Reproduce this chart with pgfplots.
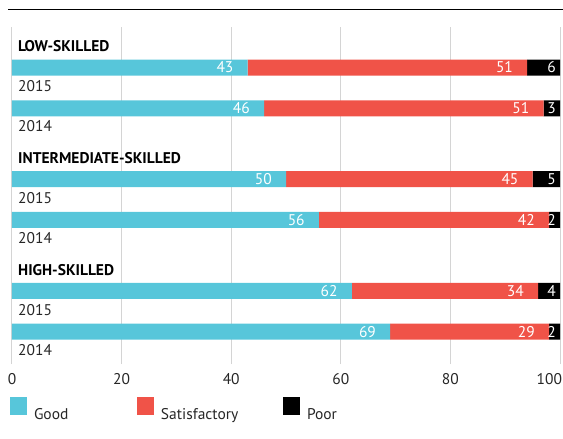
\documentclass[border=0pt]{standalone}
\usepackage{pgfplots}
\pgfplotsset{compat=1.18}
\usepackage{fontspec}
\setmainfont{PT Sans}
\definecolor{good}{HTML}{57C6DA}
\definecolor{satis}{HTML}{F05348}
\definecolor{gridgray}{HTML}{D4D4D4}
\newcommand\f{\fontsize{15.5}{18}\selectfont}

\begin{document}
\begin{tikzpicture}
\path[use as bounding box] (0pt,0pt) rectangle (563pt,-439pt);
\draw[line width=1.5pt] (8pt,-9.5pt) -- (563pt,-9.5pt);
\begin{axis}[
  at={(12pt,-27pt)}, anchor=north west,
  scale only axis, width=548pt, height=337pt,
  xmin=0, xmax=100, ymin=-364, ymax=-27,
  xbar stacked, bar width=16pt,
  axis line style={draw=none}, major tick length=0pt,
  xtick={0,20,...,100}, ytick=\empty,
  xticklabels={0,20,40,60,80,{\makebox[0pt][r]{100\hspace{-2pt}}}},
  xticklabel style={font=\f, anchor=base, yshift=-20.5pt, text=black!85},
  xmajorgrids, grid style={gridgray, line width=1pt},
  /pgf/number format/assume math mode=true,
  nodes near coords,
  visualization depends on={rawx \as \rawx},
  every node near coord/.style={anchor=east, text=white, inner sep=0pt,
    xshift=\rawx*2.74pt-14pt, font=\f},
  legend image code/.code={\fill[#1] (0pt,0pt) rectangle (17pt,17.5pt);},
  legend columns=3,
  legend style={draw=none, fill=none, inner sep=0pt, outer sep=0pt,
    at={(-0.00365,-0.1374)}, anchor=west, font=\f, text=black!85,
    /tikz/every odd column/.append style={column sep=5pt},
    /tikz/column 2/.style={text width=101pt},
    /tikz/column 4/.style={text width=120pt}},
]
\addplot[fill=good, draw=none] coordinates {
  (43,-67.5) (46,-108.3) (50,-179.1) (56,-219.9) (62,-290.8) (69,-331.6)};
\addplot[fill=satis, draw=none] coordinates {
  (51,-67.5) (51,-108.3) (45,-179.1) (42,-219.9) (34,-290.8) (29,-331.6)};
\addplot[fill=black, draw=none, every node near coord/.append style={xshift=10pt}] coordinates {
  (6,-67.5) (3,-108.3) (5,-179.1) (2,-219.9) (4,-290.8) (2,-331.6)};
\legend{Good, Satisfactory, Poor}

\node[anchor=base west, inner sep=0pt, font=\f\bfseries] at (axis cs:0,-51.7) [xshift=6pt] {LOW-SKILLED};
\node[anchor=base west, inner sep=0pt, font=\f, text=black!85] at (axis cs:0,-91.7) [xshift=6pt] {2015};
\node[anchor=base west, inner sep=0pt, font=\f, text=black!85] at (axis cs:0,-131.7) [xshift=6pt] {2014};
\node[anchor=base west, inner sep=0pt, font=\f\bfseries] at (axis cs:0,-163.3) [xshift=6pt] {INTERMEDIATE-SKILLED};
\node[anchor=base west, inner sep=0pt, font=\f, text=black!85] at (axis cs:0,-203.3) [xshift=6pt] {2015};
\node[anchor=base west, inner sep=0pt, font=\f, text=black!85] at (axis cs:0,-243.3) [xshift=6pt] {2014};
\node[anchor=base west, inner sep=0pt, font=\f\bfseries] at (axis cs:0,-275) [xshift=6pt] {HIGH-SKILLED};
\node[anchor=base west, inner sep=0pt, font=\f, text=black!85] at (axis cs:0,-315) [xshift=6pt] {2015};
\node[anchor=base west, inner sep=0pt, font=\f, text=black!85] at (axis cs:0,-355) [xshift=6pt] {2014};
\end{axis}
\end{tikzpicture}
\end{document}
